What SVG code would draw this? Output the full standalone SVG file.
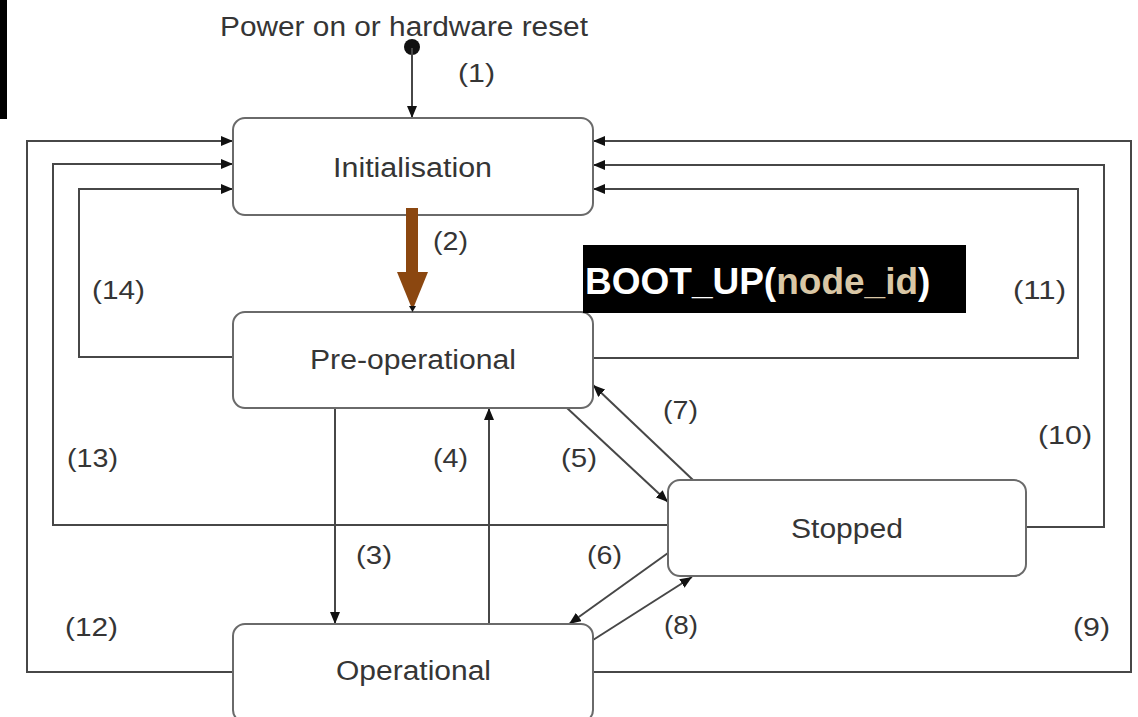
<svg xmlns="http://www.w3.org/2000/svg" width="1138" height="717" viewBox="0 0 1138 717">
  <style>
    .state { fill: #ffffff; stroke: #6a6a6a; stroke-width: 2; }
    .name { font-family: "Liberation Sans", Arial, sans-serif; font-size: 27px; fill: #353535; text-anchor: start; }
    .num { font-family: "Liberation Sans", Arial, sans-serif; font-size: 26px; fill: #353535; }
    .edge { fill: none; stroke: #474747; stroke-width: 2; }
    .boot { font-family: "Liberation Sans", Arial, sans-serif; font-size: 37px; font-weight: bold; fill: #ffffff; }
  </style>
  <defs>
    <marker id="arrow" viewBox="0 0 12 10" refX="12" refY="5" markerWidth="12" markerHeight="10" markerUnits="userSpaceOnUse" orient="auto">
      <path d="M0,0 L12,5 L0,10 Z" fill="#111111"/>
    </marker>
  </defs>

  <rect x="0" y="0" width="7" height="119" fill="#000000"/>

  <!-- initial pseudo-state -->
  <g id="start">
    <circle cx="412" cy="47" r="8" fill="#111111"/>
    <text class="name" x="220" y="36" textLength="368" lengthAdjust="spacingAndGlyphs">Power on or hardware reset</text>
  </g>

  <!-- transitions -->
  <g id="connectors">
    <path class="edge" d="M412,48 V118" marker-end="url(#arrow)"/>
    <path class="edge" d="M335,408 V624" marker-end="url(#arrow)"/>
    <path class="edge" d="M489,624 V408" marker-end="url(#arrow)"/>
    <path class="edge" d="M567,408 L668,502" marker-end="url(#arrow)"/>
    <path class="edge" d="M693,480 L593,385" marker-end="url(#arrow)"/>
    <path class="edge" d="M668,553 L569,624" marker-end="url(#arrow)"/>
    <path class="edge" d="M593,640 L692,577" marker-end="url(#arrow)"/>
    <path class="edge" d="M593,672 H1131 V141 H593" marker-end="url(#arrow)"/>
    <path class="edge" d="M1026,527 H1104 V165 H593" marker-end="url(#arrow)"/>
    <path class="edge" d="M593,358 H1078 V189 H593" marker-end="url(#arrow)"/>
    <path class="edge" d="M233,672 H27 V141 H233" marker-end="url(#arrow)"/>
    <path class="edge" d="M668,525 H53 V164 H233" marker-end="url(#arrow)"/>
    <path class="edge" d="M233,357 H79 V189 H233" marker-end="url(#arrow)"/>
  </g>

  <!-- states -->
  <g id="initialisation">
    <rect class="state" x="233" y="118" width="360" height="97" rx="12"/>
    <text class="name" x="333" y="177" textLength="159" lengthAdjust="spacingAndGlyphs">Initialisation</text>
  </g>
  <g id="pre-operational">
    <rect class="state" x="233" y="312" width="360" height="96" rx="12"/>
    <text class="name" x="310" y="369" textLength="206" lengthAdjust="spacingAndGlyphs">Pre-operational</text>
  </g>
  <g id="stopped">
    <rect class="state" x="668" y="480" width="358" height="96" rx="12"/>
    <text class="name" x="791" y="538" textLength="112" lengthAdjust="spacingAndGlyphs">Stopped</text>
  </g>
  <g id="operational">
    <rect class="state" x="233" y="624" width="360" height="98" rx="12"/>
    <text class="name" x="336" y="680" textLength="155" lengthAdjust="spacingAndGlyphs">Operational</text>
  </g>

  <!-- highlighted boot-up transition -->
  <g id="boot-transition">
    <rect x="406" y="208" width="12" height="66" fill="#8b4710"/>
    <path d="M397,272 H428 L412.5,310 Z" fill="#8b4710"/>
    <path d="M409,306 H416 L412.5,312 Z" fill="#111111"/>
  </g>
  <g id="boot-label">
    <rect x="583" y="245" width="383" height="68" fill="#000000"/>
    <text class="boot" x="585" y="294">BOOT_UP(<tspan fill="#d9c7a6">node_id</tspan>)</text>
  </g>

  <!-- transition numbers -->
  <g id="labels">
    <text class="num" x="458" y="82" textLength="37" lengthAdjust="spacingAndGlyphs">(1)</text>
    <text class="num" x="433" y="250" textLength="35" lengthAdjust="spacingAndGlyphs">(2)</text>
    <text class="num" x="356" y="564" textLength="36" lengthAdjust="spacingAndGlyphs">(3)</text>
    <text class="num" x="433" y="467" textLength="35" lengthAdjust="spacingAndGlyphs">(4)</text>
    <text class="num" x="561" y="467" textLength="36" lengthAdjust="spacingAndGlyphs">(5)</text>
    <text class="num" x="587" y="564" textLength="35" lengthAdjust="spacingAndGlyphs">(6)</text>
    <text class="num" x="663" y="419" textLength="35" lengthAdjust="spacingAndGlyphs">(7)</text>
    <text class="num" x="664" y="634" textLength="34" lengthAdjust="spacingAndGlyphs">(8)</text>
    <text class="num" x="1073" y="636" textLength="37" lengthAdjust="spacingAndGlyphs">(9)</text>
    <text class="num" x="1038" y="444" textLength="54" lengthAdjust="spacingAndGlyphs">(10)</text>
    <text class="num" x="1013" y="299" textLength="53" lengthAdjust="spacingAndGlyphs">(11)</text>
    <text class="num" x="65" y="636" textLength="53" lengthAdjust="spacingAndGlyphs">(12)</text>
    <text class="num" x="67" y="467" textLength="51" lengthAdjust="spacingAndGlyphs">(13)</text>
    <text class="num" x="92" y="299" textLength="53" lengthAdjust="spacingAndGlyphs">(14)</text>
  </g>
</svg>
